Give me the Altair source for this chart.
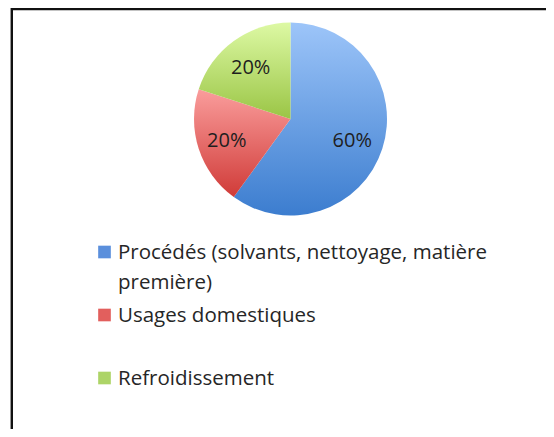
import altair as alt
import pandas as pd

categories = ["Procédés (solvants, nettoyage, matière première)", "Usages domestiques", "Refroidissement"]
values = [60, 20, 20]
grad_top = ["#9dc5f9", "#fa9d9c", "#ddf9a4"]
grad_bottom = ["#3c7dcf", "#d03b38", "#9ac545"]
legend_colors = ["#5a8fdc", "#e25f5d", "#add467"]

df = pd.DataFrame({"cat": categories, "value": values})
total = sum(values)

W, H = 538, 421
CX, CY, R = 282.5, 111, 96.5
FONT = "Open Sans"

base = alt.Chart(df).transform_window(
    end="sum(value)", row="row_number()", frame=[None, 0]
).transform_calculate(
    start="datum.end - datum.value",
    mid="datum.end - datum.value / 2",
    pct="format(datum.value / %d, '.0%%')" % total,
    label="replace(datum.cat, 'matière ', 'matière\\n')",
)

theta_scale = alt.Scale(domain=[0, total])

arcs = []
for i, c in enumerate(categories):
    grad = alt.LinearGradient(
        gradient="linear",
        stops=[alt.GradientStop(color=grad_top[i], offset=0),
               alt.GradientStop(color=grad_bottom[i], offset=1)],
        x1=0, x2=0, y1=0, y2=1,
    )
    arcs.append(
        base.transform_filter(alt.datum.cat == c)
        .mark_arc(outerRadius=R, fill=grad)
        .encode(
            theta=alt.Theta("start:Q", scale=theta_scale, stack=None),
            theta2="end:Q",
            x=alt.value(CX),
            y=alt.value(CY),
        )
    )

pct = base.mark_text(font=FONT, fontSize=20, color="#1e1e1e").encode(
    theta=alt.Theta("mid:Q", scale=theta_scale, stack=None),
    radius=alt.value(66),
    x=alt.value(CX - 1),
    y=alt.value(CY + 2),
    text="pct:N",
)

ypos = alt.Y("row:Q", scale=alt.Scale(domain=[1, 3], range=[244, 370], nice=False, zero=False), axis=None)

squares = base.mark_square(size=160, opacity=1).encode(
    x=alt.value(96.5),
    y=ypos,
    color=alt.Color("cat:N", scale=alt.Scale(domain=categories, range=legend_colors), legend=None),
)

legend_text = base.mark_text(
    font=FONT, fontSize=20.5, color="#262626", align="left", baseline="top",
    dy=-9, lineBreak="\n", lineHeight=30,
).encode(x=alt.value(110), y=ypos, text="label:N")

frame_df = pd.DataFrame({"a": [0]})
top_rule = alt.Chart(frame_df).mark_rule(color="#111", strokeWidth=2.5).encode(
    x=alt.value(2), x2=alt.value(W), y=alt.value(1)
)
left_gray = alt.Chart(frame_df).mark_rule(color="#9a9a9a", strokeWidth=1).encode(
    x=alt.value(2.5), y=alt.value(0), y2=alt.value(H)
)
left_rule = alt.Chart(frame_df).mark_rule(color="#111", strokeWidth=2).encode(
    x=alt.value(4), y=alt.value(0), y2=alt.value(H)
)

chart = alt.layer(
    top_rule, left_gray, left_rule, *arcs, pct, squares, legend_text
).properties(
    width=W, height=H, padding=0, autosize=alt.AutoSizeParams(type="none")
).configure_view(stroke=None)

chart.save("out.html", embed_options={"renderer": "svg", "actions": False})
